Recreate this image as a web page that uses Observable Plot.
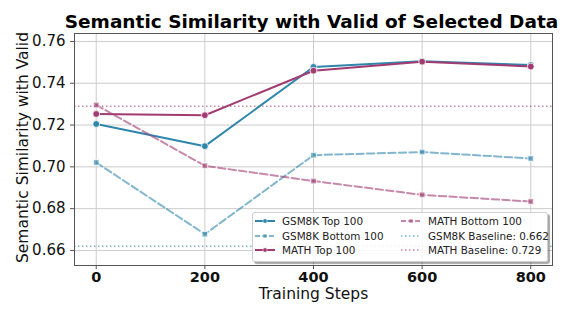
<!DOCTYPE html>
<html>
<head>
<meta charset="utf-8">
<script src="https://cdn.jsdelivr.net/npm/d3@7"></script>
<script src="https://cdn.jsdelivr.net/npm/@observablehq/plot@0.6"></script>
<style>
  html, body { margin: 0; padding: 0; background: #fff; }
  #wrap { position: relative; width: 566px; height: 309px; font-family: "DejaVu Sans", sans-serif; }
  #legend { position: absolute; left: 252px; top: 212px; width: 294px; height: 48px;
    background: rgba(255,255,255,0.85); border: 1px solid #cfcfcf; border-radius: 3px;
    box-shadow: 2px 2px 1px rgba(0,0,0,0.35); font-size: 10.4px; color: #222; }
  .item { position: absolute; display: flex; align-items: center; white-space: nowrap; height: 14px; }
  .item svg { margin-right: 7px; }
</style>
</head>
<body>
<div id="wrap"><div id="legend"></div></div>
<script>
const steps = [0, 200, 400, 600, 800];
const gsmTop = [0.7205, 0.7099, 0.7478, 0.7505, 0.7487];
const gsmBottom = [0.7021, 0.6678, 0.7056, 0.7071, 0.7040];
const mathTop = [0.7253, 0.7247, 0.7460, 0.7503, 0.7480];
const mathBottom = [0.7296, 0.7005, 0.6932, 0.6866, 0.6834];
const gsmBaseline = 0.662;
const mathBaseline = 0.729;
const yTicks = [0.66, 0.68, 0.70, 0.72, 0.74, 0.76];

const blue = "#2E86AB", mag = "#A23B72";
const seriesDefs = [
  {name: "GSM8K Top 100", vals: gsmTop, color: blue, dash: null, symbol: "circle", op: 1},
  {name: "GSM8K Bottom 100", vals: gsmBottom, color: blue, dash: "7.4,3.2", symbol: "square", op: 0.6},
  {name: "MATH Top 100", vals: mathTop, color: mag, dash: null, symbol: "circle", op: 1},
  {name: "MATH Bottom 100", vals: mathBottom, color: mag, dash: "7.4,3.2", symbol: "square", op: 0.6}
];

const marks = [
  Plot.gridX(steps, {stroke: "#cccccc", strokeOpacity: 1, strokeWidth: 1}),
  Plot.gridY(yTicks, {stroke: "#cccccc", strokeOpacity: 1, strokeWidth: 1}),
  Plot.ruleY([gsmBaseline], {stroke: blue, strokeOpacity: 0.6, strokeWidth: 1.5, strokeDasharray: "1.5,2.5"}),
  Plot.ruleY([mathBaseline], {stroke: mag, strokeOpacity: 0.6, strokeWidth: 1.5, strokeDasharray: "1.5,2.5"})
];
for (const s of seriesDefs) {
  const data = steps.map((x, i) => ({x, y: s.vals[i]}));
  marks.push(Plot.line(data, {x: "x", y: "y", stroke: s.color, strokeWidth: 2, strokeOpacity: s.op,
    strokeDasharray: s.dash || undefined}));
  marks.push(Plot.dot(data, {x: "x", y: "y", fill: s.color, fillOpacity: s.op, stroke: "white", strokeWidth: 0.8,
    symbol: s.symbol, r: s.symbol === "square" ? 3.2 : 3.4}));
}
marks.push(
  Plot.frame({stroke: "#555", strokeWidth: 1}),
  Plot.axisX(steps, {tickFormat: d => String(d), fontWeight: "bold", fontSize: 14.5, tickSize: 4, tickPadding: 2, label: null, stroke: "#555"}),
  Plot.axisY(yTicks, {tickFormat: d3.format(".2f"), fontSize: 15, tickSize: 4, tickPadding: 5, label: null, stroke: "#555"}),
  Plot.text(["Semantic Similarity with Valid of Selected Data"], {frameAnchor: "top", textAnchor: "middle", dx: -2, dy: -19, fontSize: 18.5, fontWeight: "bold", fill: "#000"}),
  Plot.text(["Training Steps"], {frameAnchor: "bottom", textAnchor: "middle", dy: 33.5, fontSize: 15.5, fill: "#111"}),
  Plot.text(["Semantic Similarity with Valid"], {frameAnchor: "left", textAnchor: "middle", rotate: -90, dx: -51, dy: -2, fontSize: 15.5, fill: "#111"})
);

const chart = Plot.plot({
  width: 566, height: 309,
  marginLeft: 74, marginRight: 14, marginTop: 33, marginBottom: 44,
  style: {fontFamily: "DejaVu Sans, sans-serif", background: "white", color: "#111", overflow: "visible"},
  x: {domain: [-40, 840], axis: null},
  y: {domain: [0.6528, 0.7638], axis: null},
  marks
});
const wrap = document.getElementById("wrap");
wrap.insertBefore(chart, wrap.firstChild);

// legend
const legendItems = [
  ...seriesDefs.map(s => ({label: s.name, color: s.color, dash: s.dash, symbol: s.symbol, op: s.op, lw: 2})),
  {label: `GSM8K Baseline: ${gsmBaseline.toFixed(3)}`, color: blue, dash: "1.5,2.5", symbol: null, op: 0.6, lw: 1.5},
  {label: `MATH Baseline: ${mathBaseline.toFixed(3)}`, color: mag, dash: "1.5,2.5", symbol: null, op: 0.6, lw: 1.5}
];
const legend = document.getElementById("legend");
legendItems.forEach((it, i) => {
  const col = Math.floor(i / 3), row = i % 3;
  const div = document.createElement("div");
  div.className = "item";
  div.style.left = (col === 0 ? 2 : 148) + "px";
  div.style.top = (1 + row * 14.5) + "px";
  const ns = "http://www.w3.org/2000/svg";
  const svg = document.createElementNS(ns, "svg");
  svg.setAttribute("width", 20); svg.setAttribute("height", 10);
  const ln = document.createElementNS(ns, "line");
  ln.setAttribute("x1", 0); ln.setAttribute("x2", 20); ln.setAttribute("y1", 5); ln.setAttribute("y2", 5);
  ln.setAttribute("stroke", it.color); ln.setAttribute("stroke-width", it.lw); ln.setAttribute("stroke-opacity", it.op);
  if (it.dash) ln.setAttribute("stroke-dasharray", it.dash === "7.4,3.2" ? "5,2" : it.dash);
  svg.appendChild(ln);
  if (it.symbol) {
    let m;
    if (it.symbol === "circle") { m = document.createElementNS(ns, "circle"); m.setAttribute("cx", 10); m.setAttribute("cy", 5); m.setAttribute("r", 2.2); }
    else { m = document.createElementNS(ns, "rect"); m.setAttribute("x", 8); m.setAttribute("y", 3); m.setAttribute("width", 4); m.setAttribute("height", 4); }
    m.setAttribute("fill", it.color); m.setAttribute("fill-opacity", it.op); m.setAttribute("stroke", "white"); m.setAttribute("stroke-width", 0.5);
    svg.appendChild(m);
  }
  div.appendChild(svg);
  const span = document.createElement("span");
  span.textContent = it.label;
  div.appendChild(span);
  legend.appendChild(div);
});
</script>
</body>
</html>
